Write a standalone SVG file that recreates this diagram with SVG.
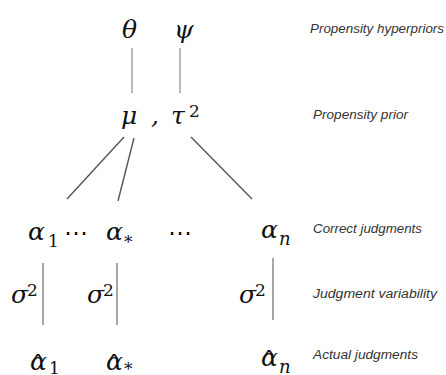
<svg xmlns="http://www.w3.org/2000/svg" width="446" height="375" viewBox="0 0 446 375">
<style>
.m{font-family:"DejaVu Serif",serif;font-style:italic;font-size:25px;fill:#111}
.s{font-family:"DejaVu Serif",serif;font-style:italic;font-size:18px;fill:#111}
.u{font-family:"DejaVu Serif",serif;font-style:normal;font-size:17px;fill:#111}
.h{font-family:"DejaVu Serif",serif;font-style:normal;font-size:28px}
.d{font-family:"DejaVu Sans",sans-serif;font-size:24px;fill:#111}
.l{font-family:"Liberation Sans",Arial,sans-serif;font-style:italic;font-size:12px;fill:#333}
.c1{stroke:#a8a8a8;stroke-width:1.6;fill:none}
.c2{stroke:#555;stroke-width:1.4;fill:none}
.c3{stroke:#8a8a8a;stroke-width:1.5;fill:none}
</style>
<g id="connectors">
<line class="c1" x1="132" y1="48" x2="132" y2="93"/>
<line class="c1" x1="180" y1="48" x2="180" y2="93"/>
<line class="c2" x1="124" y1="137" x2="67" y2="199"/>
<line class="c2" x1="134" y1="138" x2="118" y2="201"/>
<line class="c2" x1="191" y1="137" x2="252" y2="199"/>
<line class="c3" x1="43" y1="263" x2="43" y2="325"/>
<line class="c3" x1="117" y1="263" x2="117" y2="325"/>
<line class="c3" x1="273" y1="258" x2="273" y2="320"/>
</g>
<g id="theta"><text class="m" x="122" y="38">θ</text></g>
<g id="psi"><text class="m" x="174" y="38">ψ</text></g>
<g id="mu-tau"><text class="m" x="121" y="124">μ</text><text class="m" x="151" y="124">,</text><text class="m" x="171" y="124">τ</text><text class="u" x="189" y="117">2</text></g>
<g id="alpha1"><text class="m" x="28" y="240">α</text><text class="u" x="48" y="247">1</text></g>
<g id="dots1"><text class="d" x="64" y="241">⋯</text></g>
<g id="alphastar"><text class="m" x="106" y="240">α</text><text class="u" x="124" y="248">*</text></g>
<g id="dots2"><text class="d" x="168" y="241">⋯</text></g>
<g id="alphan"><text class="m" x="261" y="238">α</text><text class="s" x="279" y="245">n</text></g>
<g id="sigma1"><text class="m" x="11" y="303">σ</text><text class="u" x="27" y="296">2</text></g>
<g id="sigma2"><text class="m" x="87" y="303">σ</text><text class="u" x="103" y="296">2</text></g>
<g id="sigma3"><text class="m" x="239" y="303">σ</text><text class="u" x="255" y="296">2</text></g>
<g id="alphahat1"><text class="m" x="30" y="370">α<tspan class="h" x="31" y="376">ˆ</tspan><tspan class="u" x="49" y="374">1</tspan></text></g>
<g id="alphahatstar"><text class="m" x="106" y="370">α<tspan class="h" x="107" y="376">ˆ</tspan><tspan class="u" x="124" y="375">*</tspan></text></g>
<g id="alphahatn"><text class="m" x="261" y="366">α<tspan class="h" x="262" y="372">ˆ</tspan><tspan class="s" x="279" y="373">n</tspan></text></g>
<g id="labels">
<text class="l" x="310" y="33" textLength="134" lengthAdjust="spacingAndGlyphs">Propensity hyperpriors</text>
<text class="l" x="313" y="119" textLength="95" lengthAdjust="spacingAndGlyphs">Propensity prior</text>
<text class="l" x="313" y="233" textLength="109" lengthAdjust="spacingAndGlyphs">Correct judgments</text>
<text class="l" x="313" y="298" textLength="124" lengthAdjust="spacingAndGlyphs">Judgment variability</text>
<text class="l" x="313" y="359" textLength="105" lengthAdjust="spacingAndGlyphs">Actual judgments</text>
</g>
</svg>
